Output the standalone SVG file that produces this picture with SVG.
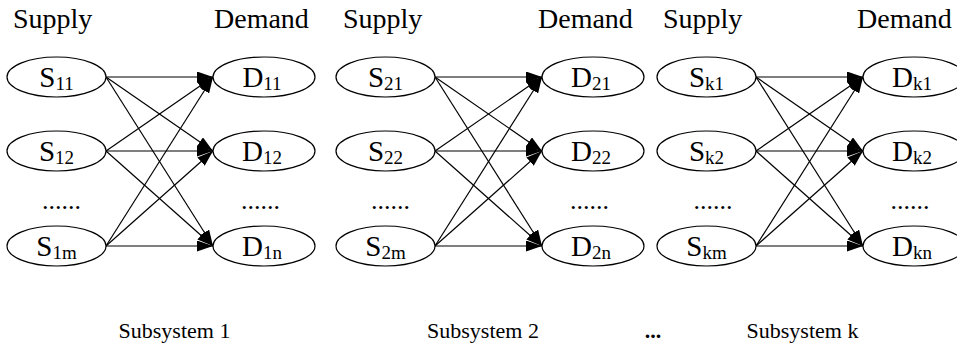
<svg xmlns="http://www.w3.org/2000/svg" width="957" height="346" viewBox="0 0 957 346" font-family="'Liberation Serif', 'DejaVu Serif', serif">
<style>
text{fill:#000;font-family:'Liberation Serif','DejaVu Serif',serif}
.hd{font-size:28px}
.nl{font-size:29px;text-anchor:middle}
.sub{font-size:19px}
.dots{font-size:26px;text-anchor:middle}
.cap{font-size:22px;text-anchor:middle}
ellipse{fill:#fff;stroke:#000;stroke-width:1.2}
#connectors line{stroke:#000;stroke-width:1.2;marker-end:url(#ah)}
</style>
<defs>
<marker id="ah" markerUnits="userSpaceOnUse" markerWidth="16" markerHeight="11" refX="16" refY="5.5" orient="auto">
<path d="M0,0 L16,5.5 L0,11 z" fill="#000"/>
</marker>
</defs>
<rect width="957" height="346" fill="#fff"/>
<g id="headers">
<text class="hd" x="13" y="28">Supply</text>
<text class="hd" x="214" y="28">Demand</text>
<text class="hd" x="343" y="28">Supply</text>
<text class="hd" x="538" y="28">Demand</text>
<text class="hd" x="663" y="28">Supply</text>
<text class="hd" x="857" y="28">Demand</text>
</g>
<g id="connectors">
<line x1="106" y1="77" x2="213" y2="77"/>
<line x1="106" y1="77" x2="213" y2="151"/>
<line x1="106" y1="77" x2="213" y2="246"/>
<line x1="106" y1="151" x2="213" y2="77"/>
<line x1="106" y1="151" x2="213" y2="151"/>
<line x1="106" y1="151" x2="213" y2="246"/>
<line x1="106" y1="246" x2="213" y2="77"/>
<line x1="106" y1="246" x2="213" y2="151"/>
<line x1="106" y1="246" x2="213" y2="246"/>
<line x1="435" y1="77" x2="542" y2="77"/>
<line x1="435" y1="77" x2="542" y2="151"/>
<line x1="435" y1="77" x2="542" y2="246"/>
<line x1="435" y1="151" x2="542" y2="77"/>
<line x1="435" y1="151" x2="542" y2="151"/>
<line x1="435" y1="151" x2="542" y2="246"/>
<line x1="435" y1="246" x2="542" y2="77"/>
<line x1="435" y1="246" x2="542" y2="151"/>
<line x1="435" y1="246" x2="542" y2="246"/>
<line x1="756" y1="77" x2="863" y2="77"/>
<line x1="756" y1="77" x2="863" y2="151"/>
<line x1="756" y1="77" x2="863" y2="246"/>
<line x1="756" y1="151" x2="863" y2="77"/>
<line x1="756" y1="151" x2="863" y2="151"/>
<line x1="756" y1="151" x2="863" y2="246"/>
<line x1="756" y1="246" x2="863" y2="77"/>
<line x1="756" y1="246" x2="863" y2="151"/>
<line x1="756" y1="246" x2="863" y2="246"/>
</g>
<g id="S11"><ellipse cx="56.5" cy="77" rx="49.5" ry="20"/><text class="nl" x="56.5" y="87">S<tspan class="sub" dy="3">11</tspan></text></g>
<g id="S12"><ellipse cx="56.5" cy="151" rx="49.5" ry="20"/><text class="nl" x="56.5" y="161">S<tspan class="sub" dy="3">12</tspan></text></g>
<g id="S1m"><ellipse cx="56.5" cy="246" rx="49.5" ry="20"/><text class="nl" x="56.5" y="256">S<tspan class="sub" dy="3">1m</tspan></text></g>
<g id="D11"><ellipse cx="264" cy="77" rx="51" ry="20"/><text class="nl" x="262" y="87">D<tspan class="sub" dy="3">11</tspan></text></g>
<g id="D12"><ellipse cx="264" cy="151" rx="51" ry="20"/><text class="nl" x="262" y="161">D<tspan class="sub" dy="3">12</tspan></text></g>
<g id="D1n"><ellipse cx="264" cy="246" rx="51" ry="20"/><text class="nl" x="262" y="256">D<tspan class="sub" dy="3">1n</tspan></text></g>
<g id="S21"><ellipse cx="385.5" cy="77" rx="49.5" ry="20"/><text class="nl" x="385.5" y="87">S<tspan class="sub" dy="3">21</tspan></text></g>
<g id="S22"><ellipse cx="385.5" cy="151" rx="49.5" ry="20"/><text class="nl" x="385.5" y="161">S<tspan class="sub" dy="3">22</tspan></text></g>
<g id="S2m"><ellipse cx="385.5" cy="246" rx="49.5" ry="20"/><text class="nl" x="385.5" y="256">S<tspan class="sub" dy="3">2m</tspan></text></g>
<g id="D21"><ellipse cx="593" cy="77" rx="51" ry="20"/><text class="nl" x="591" y="87">D<tspan class="sub" dy="3">21</tspan></text></g>
<g id="D22"><ellipse cx="593" cy="151" rx="51" ry="20"/><text class="nl" x="591" y="161">D<tspan class="sub" dy="3">22</tspan></text></g>
<g id="D2n"><ellipse cx="593" cy="246" rx="51" ry="20"/><text class="nl" x="591" y="256">D<tspan class="sub" dy="3">2n</tspan></text></g>
<g id="Sk1"><ellipse cx="706.5" cy="77" rx="49.5" ry="20"/><text class="nl" x="706.5" y="87">S<tspan class="sub" dy="3">k1</tspan></text></g>
<g id="Sk2"><ellipse cx="706.5" cy="151" rx="49.5" ry="20"/><text class="nl" x="706.5" y="161">S<tspan class="sub" dy="3">k2</tspan></text></g>
<g id="Skm"><ellipse cx="706.5" cy="246" rx="49.5" ry="20"/><text class="nl" x="706.5" y="256">S<tspan class="sub" dy="3">km</tspan></text></g>
<g id="Dk1"><ellipse cx="914" cy="77" rx="51" ry="20"/><text class="nl" x="912" y="87">D<tspan class="sub" dy="3">k1</tspan></text></g>
<g id="Dk2"><ellipse cx="914" cy="151" rx="51" ry="20"/><text class="nl" x="912" y="161">D<tspan class="sub" dy="3">k2</tspan></text></g>
<g id="Dkn"><ellipse cx="914" cy="246" rx="51" ry="20"/><text class="nl" x="912" y="256">D<tspan class="sub" dy="3">kn</tspan></text></g>
<g id="ellipsis-dots">
<text class="dots" x="61.5" y="209">......</text>
<text class="dots" x="260.5" y="209">......</text>
<text class="dots" x="390.5" y="209">......</text>
<text class="dots" x="589.5" y="209">......</text>
<text class="dots" x="713" y="209">......</text>
<text class="dots" x="910" y="209">......</text>
</g>
<g id="captions">
<text class="cap" x="174.5" y="338">Subsystem 1</text>
<text class="cap" x="483" y="338">Subsystem 2</text>
<text class="cap" x="653" y="338" font-weight="bold">...</text>
<text class="cap" x="802.5" y="338">Subsystem k</text>
</g>
</svg>
